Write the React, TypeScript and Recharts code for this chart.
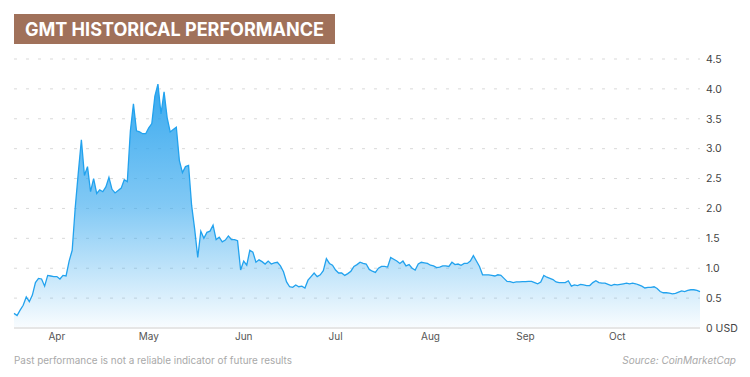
import React from 'react';
import { AreaChart, Area, XAxis, YAxis, CartesianGrid } from 'recharts';

const year = 2022;
// Daily GMT closing prices (USD)
const marchPrices = [0.245, 0.21, 0.3, 0.38, 0.52, 0.44, 0.55, 0.76, 0.83, 0.82, 0.7, 0.88, 0.87, 0.86]; // Mar 18-31
const aprilPrices = [0.86, 0.82, 0.88, 0.87, 1.12, 1.3, 2.02, 2.6, 3.15, 2.55, 2.7, 2.28, 2.5, 2.25, 2.31, 2.28, 2.36, 2.52, 2.32, 2.26, 2.3, 2.34, 2.48, 2.45, 3.3, 3.75, 3.3, 3.28, 3.25, 3.25];
const mayPrices = [3.35, 3.42, 3.88, 4.08, 3.58, 3.95, 3.52, 3.28, 3.32, 3.36, 2.8, 2.6, 2.7, 2.72, 2.05, 1.65, 1.18, 1.62, 1.5, 1.6, 1.62, 1.72, 1.48, 1.52, 1.44, 1.47, 1.54, 1.48, 1.48, 1.46, 0.97];
const junePrices = [1.12, 1.05, 1.3, 1.27, 1.1, 1.14, 1.11, 1.07, 1.12, 1.07, 1.09, 1.1, 1.04, 0.94, 0.77, 0.69, 0.68, 0.72, 0.69, 0.7, 0.67, 0.8, 0.86, 0.92, 0.86, 0.89, 0.96, 1.16, 1.08, 1.05];
const julyPrices = [0.97, 0.92, 0.92, 0.88, 0.91, 0.95, 1.03, 1.06, 1.1, 1.08, 1.07, 0.98, 0.95, 0.93, 1.0, 1.03, 1.03, 1.02, 1.18, 1.15, 1.12, 1.08, 1.12, 1.04, 1.06, 1.0, 0.97, 1.07, 1.1, 1.09, 1.08];
const augustPrices = [1.05, 1.04, 1.01, 1.02, 1.04, 1.04, 1.03, 1.1, 1.06, 1.07, 1.05, 1.08, 1.08, 1.12, 1.21, 1.12, 1.03, 0.89, 0.89, 0.89, 0.88, 0.87, 0.89, 0.88, 0.83, 0.78, 0.775, 0.76, 0.77, 0.77, 0.775];
const septemberPrices = [0.775, 0.78, 0.78, 0.76, 0.74, 0.77, 0.88, 0.85, 0.83, 0.81, 0.77, 0.76, 0.76, 0.76, 0.79, 0.7, 0.72, 0.71, 0.73, 0.72, 0.71, 0.71, 0.76, 0.79, 0.76, 0.75, 0.75, 0.73, 0.71, 0.73];
const octoberPrices = [0.72, 0.73, 0.74, 0.75, 0.74, 0.75, 0.74, 0.72, 0.7, 0.67, 0.68, 0.68, 0.69, 0.66, 0.61, 0.59, 0.59, 0.585, 0.57, 0.58, 0.6, 0.62, 0.61, 0.63, 0.64, 0.64, 0.63, 0.61];

const monthSeries = [
  { month: 3, firstDay: 18, prices: marchPrices },
  { month: 4, firstDay: 1, prices: aprilPrices },
  { month: 5, firstDay: 1, prices: mayPrices },
  { month: 6, firstDay: 1, prices: junePrices },
  { month: 7, firstDay: 1, prices: julyPrices },
  { month: 8, firstDay: 1, prices: augustPrices },
  { month: 9, firstDay: 1, prices: septemberPrices },
  { month: 10, firstDay: 1, prices: octoberPrices },
];

const monthTickLabels = ['Apr', 'May', 'Jun', 'Jul', 'Aug', 'Sep', 'Oct'];
const monthTickNumbers = [4, 5, 6, 7, 8, 9, 10];
const priceTicks = [0, 0.5, 1, 1.5, 2, 2.5, 3, 3.5, 4, 4.5];

const pad = (n: number) => (n < 10 ? '0' + n : '' + n);
const dateKey = (m: number, d: number) => `${year}-${pad(m)}-${pad(d)}`;

const data = monthSeries.flatMap((s) =>
  s.prices.map((p, i) => ({ date: dateKey(s.month, s.firstDay + i), price: p }))
);
const monthTicks = monthTickNumbers.map((m) => dateKey(m, 1));
const monthLabelOf: Record<string, string> = {};
monthTicks.forEach((t, i) => (monthLabelOf[t] = monthTickLabels[i]));

const titleText = 'GMT HISTORICAL PERFORMANCE';
const disclaimerText = 'Past performance is not a reliable indicator of future results';
const sourceText = 'Source: CoinMarketCap';

const FONT = 'Inter, "Noto Sans", sans-serif';

export default function App() {
  return (
    <div style={{ position: 'absolute', left: 0, top: 0, width: 750, height: 377, background: '#fff', overflow: 'hidden' }}>
      <AreaChart
        width={750}
        height={377}
        data={data}
        margin={{ top: 59, right: 5, bottom: 19, left: 14 }}
      >
        <defs>
          <linearGradient id="gmtFill" x1="0" y1="0" x2="0" y2="1">
            <stop offset="0%" stopColor="#2fa5ee" stopOpacity={0.95} />
            <stop offset="50%" stopColor="#2fa5ee" stopOpacity={0.6} />
            <stop offset="100%" stopColor="#2fa5ee" stopOpacity={0.03} />
          </linearGradient>
        </defs>
        <CartesianGrid vertical={false} stroke="#d9d9d9" strokeDasharray="3 9" />
        <XAxis
          dataKey="date"
          ticks={monthTicks}
          interval={0}
          tickFormatter={(v: string) => monthLabelOf[v] || ''}
          axisLine={{ stroke: '#e6e6e6', strokeWidth: 2 }}
          tickLine={false}
          tickSize={0}
          tickMargin={5}
          height={30}
          tick={{ fontSize: 10, fill: '#555', fontFamily: FONT }}
        />
        <YAxis
          orientation="right"
          domain={[0, 4.5]}
          ticks={priceTicks}
          interval={0}
          width={45}
          axisLine={false}
          tickLine={false}
          tickSize={0}
          tickMargin={6}
          tickFormatter={(v: number) => (v === 0 ? '0 USD' : v.toFixed(1))}
          tick={{ fontSize: 10.5, fill: '#444', fontFamily: FONT }}
        />
        <Area
          type="linear"
          dataKey="price"
          stroke="#22a2ee"
          strokeWidth={1.3}
          fill="url(#gmtFill)"
          fillOpacity={1}
          isAnimationActive={false}
          dot={false}
          activeDot={false}
        />
      </AreaChart>
      <svg
        width={750}
        height={377}
        style={{ position: 'absolute', left: 0, top: 0, pointerEvents: 'none' }}
      >
        <rect x={14} y={14} width={321} height={30} fill="#a0715a" />
        <text
          x={25}
          y={36}
          fill="#ffffff"
          fontFamily={FONT}
          fontWeight={700}
          fontSize={18.5}
          textLength={299}
          lengthAdjust="spacingAndGlyphs"
        >
          {titleText}
        </text>
        <text
          x={14}
          y={364}
          fill="#a9a9a9"
          fontFamily={FONT}
          fontSize={10}
          textLength={278}
          lengthAdjust="spacingAndGlyphs"
        >
          {disclaimerText}
        </text>
        <text
          x={736}
          y={364}
          fill="#a9a9a9"
          fontFamily={FONT}
          fontSize={10}
          fontStyle="italic"
          textAnchor="end"
        >
          {sourceText}
        </text>
      </svg>
    </div>
  );
}
